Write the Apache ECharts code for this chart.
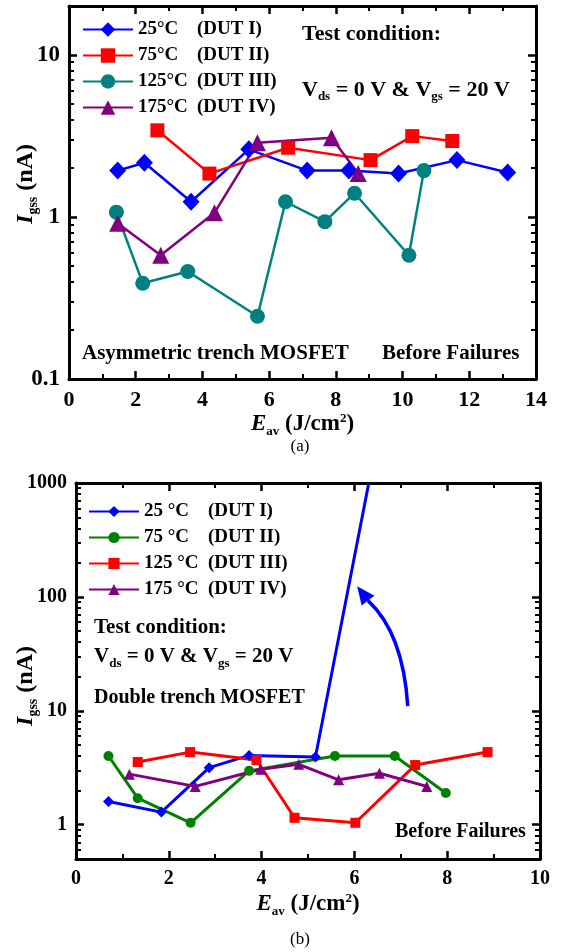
<!DOCTYPE html>
<html><head><meta charset="utf-8">
<script src="https://cdn.jsdelivr.net/npm/echarts@6/dist/echarts.min.js"></script>
<style>html,body{margin:0;padding:0;background:#fff}#c{width:563px;height:952px}</style>
</head><body><div id="c"></div>
<script>
const FONT = "'Liberation Serif','Times New Roman',serif";

// ---------- Panel (a): Asymmetric trench MOSFET ----------
const aNames = ['25°C', '75°C', '125°C', '175°C'];
const aDut = ['(DUT I)', '(DUT II)', '(DUT III)', '(DUT IV)'];
const a25x = [1.46, 2.26, 3.66, 5.39, 7.14, 8.39, 9.88, 11.63, 13.15];
const a25y = [1.93, 2.16, 1.24, 2.61, 1.93, 1.93, 1.85, 2.24, 1.88];
const a75x = [2.65, 4.21, 6.57, 9.04, 10.29, 11.49];
const a75y = [3.42, 1.85, 2.67, 2.24, 3.15, 2.94];
const a125x = [1.42, 2.21, 3.56, 5.65, 6.49, 7.67, 8.56, 10.19, 10.64];
const a125y = [1.07, 0.39, 0.46, 0.244, 1.24, 0.935, 1.40, 0.58, 1.93];
const a175x = [1.46, 2.75, 4.36, 5.65, 7.87, 8.67];
const a175y = [0.914, 0.58, 1.06, 2.87, 3.08, 1.85];
const aYMajor = [0.1, 1, 10];
const aYLabels = ['0.1', '1', '10'];
const aYMinor = [0.2, 0.3, 0.4, 0.5, 0.6, 0.7, 0.8, 0.9, 2, 3, 4, 5, 6, 7, 8, 9];

// ---------- Panel (b): Double trench MOSFET ----------
const bNames = ['25 °C', '75 °C', '125 °C', '175 °C'];
const bDut = ['(DUT I)', '(DUT II)', '(DUT III)', '(DUT IV)'];
const b25x = [0.70, 1.84, 2.87, 3.73, 5.16, 6.31];
const b25y = [1.60, 1.29, 3.17, 4.06, 3.93, 1000];
const b75x = [0.70, 1.33, 2.47, 3.73, 5.58, 6.87, 7.97];
const b75y = [4.01, 1.71, 1.04, 2.97, 4.01, 4.01, 1.90];
const b125x = [1.33, 2.46, 3.89, 4.71, 6.02, 7.31, 8.87];
const b125y = [3.55, 4.34, 3.70, 1.15, 1.04, 3.34, 4.34];
const b175x = [1.15, 2.57, 3.98, 4.80, 5.66, 6.54, 7.56];
const b175y = [2.78, 2.17, 3.07, 3.39, 2.48, 2.83, 2.17];
const bYMajor = [1, 10, 100, 1000];
const bYLabels = ['1', '10', '100', '1000'];
const bYMinor = [0.6, 0.7, 0.8, 0.9, 2, 3, 4, 5, 6, 7, 8, 9, 20, 30, 40, 50, 60, 70, 80, 90, 200, 300, 400, 500, 600, 700, 800, 900];
// annotation arrow (data coordinates of panel b): tail, control, head-base, tip
const bArrow = [[7.15, 11.0], [7.05, 48], [6.30, 92], [6.06, 124]];

function pairs(xs, ys) { return xs.map((x, i) => [x, ys[i]]); }
function labelFor(majors, labels) {
  return function (v) {
    for (let i = 0; i < majors.length; i++) {
      if (Math.abs(Math.log10(v) - Math.log10(majors[i])) < 1e-6) return labels[i];
    }
    return '';
  };
}
const bold = { fontFamily: FONT, fontWeight: 'bold', color: '#000' };
const axisLineStyle = { show: true, onZero: false, lineStyle: { color: '#000', width: 3 } };
const tickStyle = { color: '#000', width: 2.5 };
const minorStyle = { color: '#000', width: 2 };

function xAxes(gridIndex, max, fontSize) {
  const common = {
    type: 'value', gridIndex, min: 0, max, interval: 2,
    axisLine: axisLineStyle, splitLine: { show: false },
    axisTick: { show: true, inside: true, length: 8, lineStyle: tickStyle },
    minorTick: { show: true, splitNumber: 2, length: 5, lineStyle: minorStyle },
  };
  return [
    Object.assign({}, common, {
      position: 'bottom',
      axisLabel: Object.assign({ fontSize, margin: 10 }, bold),
      name: '{i|E}{s|av}{n| (J/cm}{p|2}{n|)}',
      nameLocation: 'middle', nameGap: 32,
      nameTextStyle: {
        rich: {
          i: Object.assign({ fontSize: 23, fontStyle: 'italic' }, bold),
          s: Object.assign({ fontSize: 13, padding: [14, 0, 0, 0] }, bold),
          n: Object.assign({ fontSize: 23 }, bold),
          p: Object.assign({ fontSize: 13, padding: [0, 0, 12, 0] }, bold),
        }
      }
    }),
    Object.assign({}, common, { position: 'top', axisLabel: { show: false } }),
  ];
}
function yAxes(gridIndex, min, max, majors, labels, minors, fontSize) {
  const logCommon = {
    type: 'log', logBase: 10, gridIndex, min, max,
    axisLine: axisLineStyle, splitLine: { show: false },
    axisTick: { show: true, inside: true, length: 8, lineStyle: tickStyle },
  };
  const minorCommon = {
    type: 'value', gridIndex, min: Math.log10(min), max: Math.log10(max),
    axisLine: { show: false, onZero: false }, splitLine: { show: false }, axisLabel: { show: false },
    axisTick: { show: true, inside: true, length: 5, lineStyle: minorStyle, customValues: minors.map(v => Math.log10(v)) },
  };
  return [
    Object.assign({}, logCommon, {
      position: 'left',
      axisLabel: Object.assign({ fontSize, margin: 9, formatter: labelFor(majors, labels) }, bold),
    }),
    Object.assign({}, logCommon, { position: 'right', axisLabel: { show: false } }),
    Object.assign({}, minorCommon, { position: 'left' }),
    Object.assign({}, minorCommon, { position: 'right' }),
  ];
}

function series(name, xs, ys, color, symbol, size, xi, yi, width) {
  return {
    name, type: 'line', xAxisIndex: xi, yAxisIndex: yi,
    data: pairs(xs, ys), symbol, symbolSize: size,
    itemStyle: { color }, lineStyle: { color, width }, z: 5, clip: true,
  };
}

const b25data = pairs(b25x, b25y).map((p, i) => i === b25x.length - 1 ? { value: p, symbol: 'none' } : p);

const option = {
  animation: false,
  backgroundColor: '#fff',
  grid: [
    { left: 69, top: 6, width: 467, height: 373, containLabel: false, outerBoundsMode: 'none' },
    { left: 76, top: 483, width: 464, height: 376, containLabel: false, outerBoundsMode: 'none' },
  ],
  xAxis: [...xAxes(0, 14, 22), ...xAxes(1, 10, 20)],
  yAxis: [
    ...yAxes(0, 0.1, 20, aYMajor, aYLabels, aYMinor, 23),
    ...yAxes(1, 0.5, 1000, bYMajor, bYLabels, bYMinor, 20),
  ],
  legend: [
    {
      orient: 'vertical', left: 77, top: 15, itemWidth: 50, itemHeight: 18, itemGap: 7,
      data: aNames,
      formatter: n => `{a|${n}}{b|${aDut[aNames.indexOf(n)]}}`,
      textStyle: Object.assign({ fontSize: 19, rich: {
        a: Object.assign({ fontSize: 19, width: 59 }, bold),
        b: Object.assign({ fontSize: 19 }, bold),
      } }, bold),
    },
    {
      orient: 'vertical', left: 83, top: 497, itemWidth: 50, itemHeight: 14, itemGap: 7,
      data: bNames,
      formatter: n => `{a|${n}}{b|${bDut[bNames.indexOf(n)]}}`,
      textStyle: Object.assign({ fontSize: 19, rich: {
        a: Object.assign({ fontSize: 19, width: 64 }, bold),
        b: Object.assign({ fontSize: 19 }, bold),
      } }, bold),
    },
  ],
  series: [
    series(aNames[0], a25x, a25y, '#0000ff', 'diamond', [17, 18], 0, 0, 2.5),
    series(aNames[1], a75x, a75y, '#ff0000', 'rect', 14, 0, 0, 2.5),
    series(aNames[2], a125x, a125y, '#008080', 'circle', 15, 0, 0, 2.5),
    series(aNames[3], a175x, a175y, '#800080', 'triangle', 17, 0, 0, 2.5),
    Object.assign(series(bNames[0], b25x, b25y, '#0000ff', 'diamond', 11, 2, 4, 3), { data: b25data }),
    series(bNames[1], b75x, b75y, '#008000', 'circle', 10, 2, 4, 3),
    series(bNames[2], b125x, b125y, '#ff0000', 'rect', 10, 2, 4, 3),
    series(bNames[3], b175x, b175y, '#800080', 'triangle', 11, 2, 4, 3),
  ],
};

const chart = echarts.init(document.getElementById('c'), null, { renderer: 'canvas' });
chart.setOption(option);

// annotations
const subRich = (fs) => ({
  n: Object.assign({ fontSize: fs }, bold),
  s: Object.assign({ fontSize: Math.round(fs * 0.6), padding: [Math.round(fs * 0.6), 0, 0, 0] }, bold),
});
const yTitleRich = {
  i: Object.assign({ fontSize: 24, fontStyle: 'italic' }, bold),
  s: Object.assign({ fontSize: 14, padding: [14, 0, 0, 0] }, bold),
  n: Object.assign({ fontSize: 24 }, bold),
};
function txt(id, x, y, text, fs, extra) {
  return {
    type: 'text', id, x, y, z: 10,
    style: Object.assign({ text, fontSize: fs, fontFamily: FONT, fontWeight: 'bold', fill: '#000', verticalAlign: 'middle', align: 'left' }, extra || {}),
  };
}
function yTitle(id, x, y) {
  const t = txt(id, x, y, '{i|I}{s|gss}{n| (nA)}', 24, { rich: yTitleRich, align: 'center' });
  t.rotation = Math.PI / 2;
  return t;
}
const P = (pt) => chart.convertToPixel({ xAxisIndex: 2, yAxisIndex: 4 }, pt);
const t0 = P(bArrow[0]), c0 = P(bArrow[1]), e0 = P(bArrow[2]), tip = P(bArrow[3]);
const dx = tip[0] - e0[0], dy = tip[1] - e0[1], L = Math.hypot(dx, dy);
const ux = dx / L, uy = dy / L;
const bx = tip[0] - ux * 18, by = tip[1] - uy * 18;
const px = -uy, py = ux;

chart.setOption({
  graphic: [
    yTitle('ya', 26, 184),
    yTitle('yb', 26, 686),
    txt('a1', 302, 34, 'Test condition:', 22),
    txt('a2', 302, 90, '{n|V}{s|ds}{n| = 0 V & V}{s|gs}{n| = 20 V}', 22, { rich: subRich(22) }),
    txt('a3', 82, 354, 'Asymmetric trench MOSFET', 21),
    txt('a4', 382, 354, 'Before Failures', 21),
    txt('b1', 94, 628, 'Test condition:', 21),
    txt('b2', 94, 657, '{n|V}{s|ds}{n| = 0 V & V}{s|gs}{n| = 20 V}', 21, { rich: subRich(21) }),
    txt('b3', 94, 698, 'Double trench MOSFET', 20),
    txt('b4', 395, 832, 'Before Failures', 20),
    txt('capa', 300, 447, '(a)', 17, { fontWeight: 'normal', align: 'center' }),
    txt('capb', 300, 940, '(b)', 17, { fontWeight: 'normal', align: 'center' }),
    {
      type: 'bezierCurve', id: 'arrowCurve', z: 10,
      shape: { x1: t0[0], y1: t0[1], cpx1: c0[0], cpy1: c0[1], x2: bx, y2: by },
      style: { stroke: '#0000ff', lineWidth: 3.5, fill: null },
    },
    {
      type: 'polygon', id: 'arrowHead', z: 10,
      shape: { points: [[tip[0], tip[1]], [bx + px * 8, by + py * 8], [bx - px * 8, by - py * 8]] },
      style: { fill: '#0000ff' },
    },
  ]
});
</script>
</body></html>
